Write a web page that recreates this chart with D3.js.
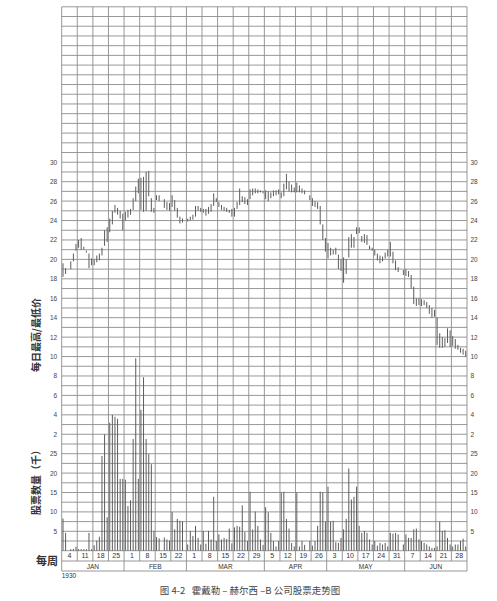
<!DOCTYPE html>
<html><head><meta charset="utf-8">
<script src="https://cdn.jsdelivr.net/npm/d3@7"></script>
<style>
html,body{margin:0;padding:0;background:#fff;}
svg{display:block;}
</style>
</head><body>
<svg id="c" width="497" height="601"></svg>
<script>
// ---- data ----
const weekLabels = ["4","11","18","25","1","8","15","22","1","8","15","22","29","5","12","19","26","3","10","17","24","31","7","14","21","28"];
const monthNames = ["JAN","FEB","MAR","APR","MAY","JUN"];
const monthWeeks = [4,4,5,4,5,4];
const priceTicks = [2,4,6,8,10,12,14,16,18,20,22,24,26,28,30];
const volumeTicks = [5,10,15,20,25];
// daily highs / lows (Mon..Sat per week, null = no trading)
const high = [
[19.6,19.1,null,19.8,20.6,21.6],
[22.0,22.2,21.3,20.9,20.6,20.1],
[20.0,20.4,20.6,21.2,23.0,23.3],
[24.2,25.0,25.6,25.3,25.0,24.7],
[24.9,25.1,25.2,26.3,27.5,28.3],
[28.4,28.5,29.0,29.1,26.3,25.3],
[26.6,26.6,null,26.2,25.9,25.8],
[26.6,26.1,25.3,24.4,24.2,null],
[24.2,24.4,24.6,25.5,25.5,25.3],
[25.2,25.2,25.4,25.7,26.8,26.3],
[25.9,25.6,25.4,25.3,25.1,25.2],
[25.3,25.9,27.3,26.5,26.4,26.2],
[27.2,27.3,27.3,27.2,27.1,27.0],
[27.1,27.0,26.9,27.1,27.1,27.2],
[26.9,27.8,28.8,28.0,27.7,27.4],
[27.9,27.6,27.3,27.1,null,26.6],
[26.3,26.0,25.9,25.5,23.6,22.2],
[21.7,21.2,21.0,21.2,20.5,20.0],
[20.2,20.0,22.3,22.6,22.3,23.3],
[23.3,22.4,22.6,22.5,21.4,21.2],
[21.0,20.6,20.4,20.3,20.7,21.0],
[21.8,20.8,19.9,19.2,null,18.9],
[19.0,18.8,18.4,17.2,16.0,16.0],
[15.9,15.8,15.6,15.3,15.0,14.8],
[14.0,12.4,12.0,11.9,12.9,12.7],
[12.1,11.8,11.2,10.9,10.8,10.6]
];
const low = [
[18.2,18.5,null,19.0,19.8,20.9],
[21.2,21.0,21.0,20.7,19.1,19.4],
[19.4,19.7,19.9,20.4,21.4,21.8],
[22.8,23.6,24.8,24.6,24.2,23.0],
[24.0,24.3,24.6,25.1,26.0,26.8],
[25.1,24.9,25.0,26.5,24.9,24.8],
[26.1,26.0,null,25.3,25.1,25.0],
[25.4,25.0,24.3,23.7,23.8,null],
[23.9,24.0,24.1,24.4,25.0,24.9],
[24.8,24.5,24.7,24.9,25.5,25.9],
[25.4,25.1,25.0,24.9,24.8,24.4],
[24.4,25.2,25.6,25.9,25.7,25.6],
[26.2,26.6,26.8,26.8,26.9,26.8],
[26.2,26.0,26.3,26.5,26.6,26.7],
[26.3,26.5,27.2,27.0,26.9,26.9],
[26.9,26.9,26.8,26.7,null,26.1],
[25.5,25.4,25.2,23.6,22.0,20.8],
[20.1,20.4,20.5,20.5,19.0,18.8],
[17.6,18.5,20.2,21.2,21.2,22.6],
[22.7,21.8,21.7,21.5,21.0,20.9],
[20.4,19.9,19.6,19.8,20.1,20.3],
[20.3,19.6,18.9,18.7,null,18.4],
[18.3,18.2,17.0,15.4,15.2,15.3],
[15.2,15.3,15.0,14.4,14.0,14.1],
[11.2,10.9,10.9,11.0,11.4,11.0],
[11.1,10.8,10.7,10.4,10.2,10.0]
];
// daily volume, thousands of shares
const volume = [
[8.3,4.6,null,0.4,0.5,1.0],
[0.4,0.4,0.4,0.4,4.6,0.4],
[1.4,2.6,3.6,24.4,30,8.6],
[33,35,34.5,34,18.5,18.5],
[18.3,11.5,13,28.8,49.6,18.5],
[36.3,44.7,28.8,24.9,22.3,5.1],
[3.5,3.2,null,3.4,2.9,2.6],
[10,5.5,8.2,7.7,7.5,null],
[1.6,5.1,3.8,6.4,3.3,1.6],
[5.1,1.8,5.1,2.9,13.9,2.5],
[4.2,2.9,3.3,3.0,5.7,1.9],
[6.0,6.4,6.2,11.7,4.8,2.5],
[15.2,5.5,10.1,6.4,2.9,1.5],
[11.2,9.9,4.6,2.5,1.1,2.5],
[15.0,15.2,8.2,5.7,2.0,1.1],
[15.0,1.1,2.5,1.5,null,2.5],
[1.3,2.5,6.4,15.2,15.0,7.5],
[16.5,7.5,7.7,2.2,2.0,3.3],
[5.5,8.2,21.2,13.2,13.9,16.5],
[6.4,4.6,5.1,4.6,2.9,1.6],
[2.5,1.3,2.0,1.6,2.0,1.1],
[4.6,4.4,4.6,4.2,null,1.6],
[4.2,3.3,3.3,5.5,5.7,2.9],
[2.5,2.0,1.6,1.1,0.7,0.7],
[1.1,7.5,5.1,5.3,3.3,1.6],
[1.1,1.6,1.6,2.5,3.1,1.1]
];

// ---- layout ----
const svg = d3.select("#c");
const L = 61.7, R = 467.0;
const nWeeks = weekLabels.length;
const x = d3.scaleLinear().domain([0, nWeeks]).range([L, R]);
const yP = d3.scaleLinear().domain([0, 46]).range([453.7, 6.8]);   // price
const yV = d3.scaleLinear().domain([0, 25]).range([550.7, 453.7]); // volume (thousands)
const dayRowBottom = 561, monthRowBottom = 571;
const gridColor = "#8c8c8c", barColor = "#5c5c5c";

const g = svg.append("g");

// horizontal grid lines
const pLines = d3.range(0, 47, 1);
g.selectAll("line.hp").data(pLines).enter().append("line")
  .attr("x1", L).attr("x2", R).attr("y1", d => yP(d)).attr("y2", d => yP(d))
  .attr("stroke", gridColor).attr("stroke-width", 0.9);
const vLinesH = d3.range(0, 25, 2.5);
g.selectAll("line.hv").data(vLinesH).enter().append("line")
  .attr("x1", L).attr("x2", R).attr("y1", d => yV(d)).attr("y2", d => yV(d))
  .attr("stroke", gridColor).attr("stroke-width", 0.9);

// vertical week lines (through day-label row)
g.selectAll("line.vw").data(d3.range(0, nWeeks + 1)).enter().append("line")
  .attr("x1", d => x(d)).attr("x2", d => x(d))
  .attr("y1", yP(46)).attr("y2", dayRowBottom)
  .attr("stroke", gridColor).attr("stroke-width", 0.9);

// label rows
g.append("line").attr("x1", L).attr("x2", R).attr("y1", dayRowBottom).attr("y2", dayRowBottom)
  .attr("stroke", gridColor).attr("stroke-width", 0.9);
g.append("line").attr("x1", L).attr("x2", R).attr("y1", monthRowBottom).attr("y2", monthRowBottom)
  .attr("stroke", gridColor).attr("stroke-width", 0.9);
const monthBounds = [0];
monthWeeks.forEach((w, i) => monthBounds.push(monthBounds[i] + w));
g.selectAll("line.mb").data(monthBounds).enter().append("line")
  .attr("x1", d => x(d)).attr("x2", d => x(d))
  .attr("y1", dayRowBottom).attr("y2", monthRowBottom)
  .attr("stroke", gridColor).attr("stroke-width", 0.9);

const tickFont = "'Liberation Sans', Arial, sans-serif";
g.selectAll("text.wk").data(weekLabels).enter().append("text")
  .attr("x", (d, i) => x(i + 0.5)).attr("y", (yV(0) + dayRowBottom) / 2 + 2.5)
  .attr("text-anchor", "middle").attr("font-family", tickFont).attr("font-size", 7)
  .attr("fill", "#333").text(d => d);
g.selectAll("text.mo").data(monthNames).enter().append("text")
  .attr("x", (d, i) => x((monthBounds[i] + monthBounds[i + 1]) / 2))
  .attr("y", (dayRowBottom + monthRowBottom) / 2 + 2.5)
  .attr("text-anchor", "middle").attr("font-family", tickFont).attr("font-size", 6.5)
  .attr("fill", "#333").text(d => d);

// tick labels both sides
[[L - 4.5, "end"], [R + 3.5, "start"]].forEach(([tx, anchor]) => {
  g.selectAll(null).data(priceTicks).enter().append("text")
    .attr("x", tx).attr("y", d => yP(d) + 2.4).attr("text-anchor", anchor)
    .attr("font-family", tickFont).attr("font-size", 6.5).attr("fill", "#444").text(d => d);
  g.selectAll(null).data(volumeTicks).enter().append("text")
    .attr("x", tx).attr("y", d => yV(d) + 2.4).attr("text-anchor", anchor)
    .attr("font-family", tickFont).attr("font-size", 6.5).attr("fill", "#444").text(d => d);
});

// price bars
const dayX = (w, j) => x(w + (j + 0.5) / 6);
const bars = [];
high.forEach((row, w) => row.forEach((h, j) => {
  if (h != null && low[w][j] != null) bars.push({w, j, h, l: low[w][j]});
}));
g.selectAll("line.pb").data(bars).enter().append("line")
  .attr("x1", d => dayX(d.w, d.j)).attr("x2", d => dayX(d.w, d.j))
  .attr("y1", d => yP(d.h)).attr("y2", d => yP(d.l))
  .attr("stroke", barColor).attr("stroke-width", 1);

// volume bars
const vols = [];
volume.forEach((row, w) => row.forEach((v, j) => { if (v != null) vols.push({w, j, v}); }));
g.selectAll("line.vb").data(vols).enter().append("line")
  .attr("x1", d => dayX(d.w, d.j)).attr("x2", d => dayX(d.w, d.j))
  .attr("y1", yV(0)).attr("y2", d => yV(d.v))
  .attr("stroke", barColor).attr("stroke-width", 1);

// titles
const cjk = "'Noto Sans CJK SC', sans-serif";
g.append("text").attr("transform", `translate(40,${335}) rotate(-90)`)
  .attr("text-anchor", "middle").attr("font-family", cjk).attr("font-size", 10)
  .attr("font-weight", "bold").attr("fill", "#333").text("每日最高/最低价");
g.append("text").attr("transform", `translate(40,${480}) rotate(-90)`)
  .attr("text-anchor", "middle").attr("font-family", cjk).attr("font-size", 10)
  .attr("font-weight", "bold").attr("fill", "#333").text("股票数量（千）");
g.append("text").attr("x", 58).attr("y", 565).attr("text-anchor", "end")
  .attr("font-family", cjk).attr("font-size", 11).attr("font-weight", "bold")
  .attr("fill", "#333").text("每周");
g.append("text").attr("x", L).attr("y", 578).attr("font-family", tickFont)
  .attr("font-size", 6.5).attr("fill", "#333").text("1930");
g.append("text").attr("x", 250).attr("y", 594).attr("text-anchor", "middle")
  .attr("font-family", cjk).attr("font-size", 9.5).attr("fill", "#444")
  .attr("xml:space", "preserve").text("图 4-2   霍戴勒 – 赫尔西 –B 公司股票走势图");
</script>
</body></html>
